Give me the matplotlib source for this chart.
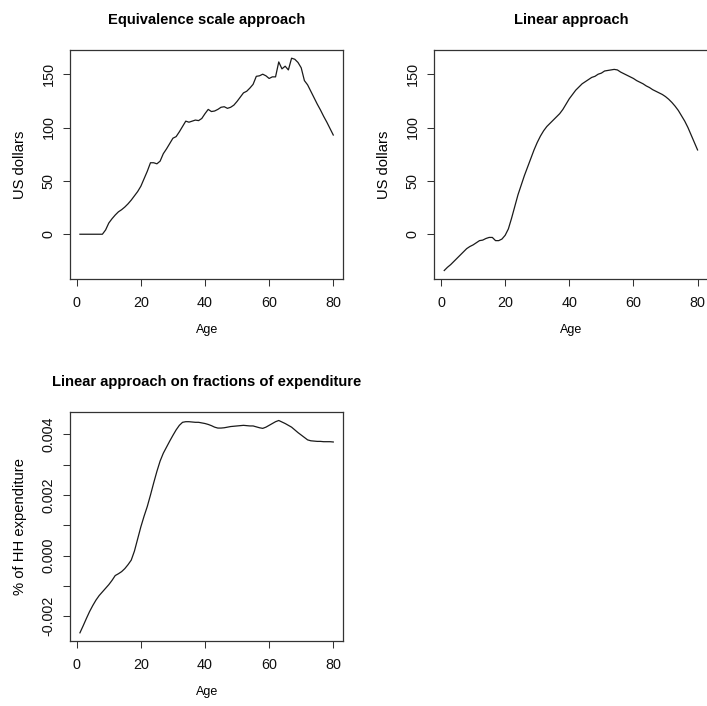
import numpy as np
import matplotlib
matplotlib.use('Agg')
import matplotlib.pyplot as plt

plt.rcParams['font.family'] = ['Liberation Sans', 'DejaVu Sans']

# data, ages 1..80
age = np.arange(1, 81)

equiv_scale = [0, 0, 0, 0, 0, 0, 0, 0, 4, 10.5,
               14.5, 18, 21, 23, 25.5, 28.5, 32, 36, 40, 45,
               52, 59, 67, 67, 66, 68.5, 75.5, 80, 85, 90,
               91.5, 96, 101, 106, 105, 106, 107, 106.5, 108.5, 113,
               117, 115, 115.5, 117, 119, 119.5, 118, 119, 121, 124.5,
               128.5, 132.5, 134, 137, 140.5, 148, 148.5, 150, 148.5, 146,
               147.5, 147.5, 161.5, 155, 157.5, 154, 165, 164, 161, 156,
               144, 140, 134, 128, 122, 116.5, 110.5, 105, 99, 93]

linear = [-34, -31, -28.5, -25.5, -22.5, -19.5, -16.5, -13.5, -11.5, -10,
          -8, -6, -5.5, -4, -3, -3, -6, -6, -4.5, -1,
          5, 15, 26, 37, 46, 55, 63, 71, 79, 86,
          92, 97, 101, 104, 107, 110, 113, 117, 122, 127,
          131, 135, 138, 141, 143, 145, 147, 148, 150, 151,
          153, 153.5, 154, 154.5, 154, 152, 150.5, 149, 147.5, 146,
          144, 142.5, 141, 139, 137.5, 135.5, 134, 132.5, 131, 129,
          126.5, 123.5, 120, 116, 111, 106, 100, 93, 86, 79]

# fractions of expenditure, in units of 1e-3
linear_frac = [-2.55, -2.32, -2.08, -1.85, -1.65, -1.47, -1.32, -1.20, -1.08, -0.96,
               -0.82, -0.66, -0.60, -0.53, -0.43, -0.30, -0.15, 0.15, 0.55, 0.95,
               1.30, 1.62, 2.00, 2.40, 2.78, 3.12, 3.38, 3.58, 3.78, 3.97,
               4.15, 4.30, 4.40, 4.42, 4.42, 4.41, 4.40, 4.40, 4.38, 4.36,
               4.33, 4.29, 4.24, 4.21, 4.21, 4.22, 4.24, 4.26, 4.27, 4.28,
               4.29, 4.30, 4.29, 4.28, 4.28, 4.25, 4.22, 4.20, 4.24, 4.30,
               4.36, 4.42, 4.46, 4.41, 4.36, 4.30, 4.24, 4.15, 4.06, 3.98,
               3.90, 3.82, 3.79, 3.78, 3.77, 3.77, 3.76, 3.76, 3.76, 3.75]
linear_frac = np.array(linear_frac) / 1000

xticks = [0, 20, 40, 60, 80]
usd_ticks = [0, 50, 100, 150]
frac_ticks = [-0.002, -0.001, 0.000, 0.001, 0.002, 0.003, 0.004]
frac_labels = ['-0.002', '', '0.000', '', '0.002', '', '0.004']

titles = ['Equivalence scale approach', 'Linear approach',
          'Linear approach on fractions of expenditure']

W, H = 707, 706
fig = plt.figure(figsize=(W / 100, H / 100), dpi=100)


def r_range(vals):
    lo, hi = np.min(vals), np.max(vals)
    pad = 0.04 * (hi - lo)
    return lo - pad, hi + pad


def panel(box, y, title, ylabel, ylim, yticks, yticklabels=None, xlabel=None):
    x0, y0, w, h = box
    ax = fig.add_axes([x0 / W, 1 - (y0 + h) / H, w / W, h / H])
    ax.plot(age, y, color='#1a1a1a', lw=0.9)
    ax.set_xlim(r_range(age))
    ax.set_ylim(ylim)
    ax.set_xticks(xticks)
    ax.set_yticks(yticks)
    if yticklabels is not None:
        ax.set_yticklabels(yticklabels)
    for s in ax.spines.values():
        s.set_color('#333333')
        s.set_linewidth(0.9)
    ax.tick_params(direction='out', length=5, width=0.75, color='#333333',
                   labelsize=10.4, labelcolor='#111111')
    ax.tick_params(axis='x', pad=7)
    ax.tick_params(axis='y', pad=5.3)
    for lab in ax.get_yticklabels():
        lab.set_rotation(90)
        lab.set_va('center')
    ax.set_title(title, fontsize=10.6, fontweight='bold', pad=18.5)
    ax.set_ylabel(ylabel, fontsize=10.6)
    ax.yaxis.set_label_coords(-0.157, 0.5)
    if xlabel:
        ax.set_xlabel(xlabel, fontsize=9)
        ax.xaxis.set_label_coords(0.5, -0.195)
    return ax


usd_lim = r_range(np.concatenate([equiv_scale, linear]))
panel((69.8, 49.7, 273.6, 229.3), equiv_scale, titles[0], 'US dollars',
      usd_lim, usd_ticks, xlabel='Age')
panel((434.1, 49.7, 273.6, 229.3), linear, titles[1], 'US dollars',
      usd_lim, usd_ticks, xlabel='Age')
panel((69.8, 412.0, 273.6, 229.3), linear_frac, titles[2], '% of HH expenditure',
      r_range(linear_frac), frac_ticks, frac_labels, xlabel='Age')

fig.savefig('out.png', dpi=100)
